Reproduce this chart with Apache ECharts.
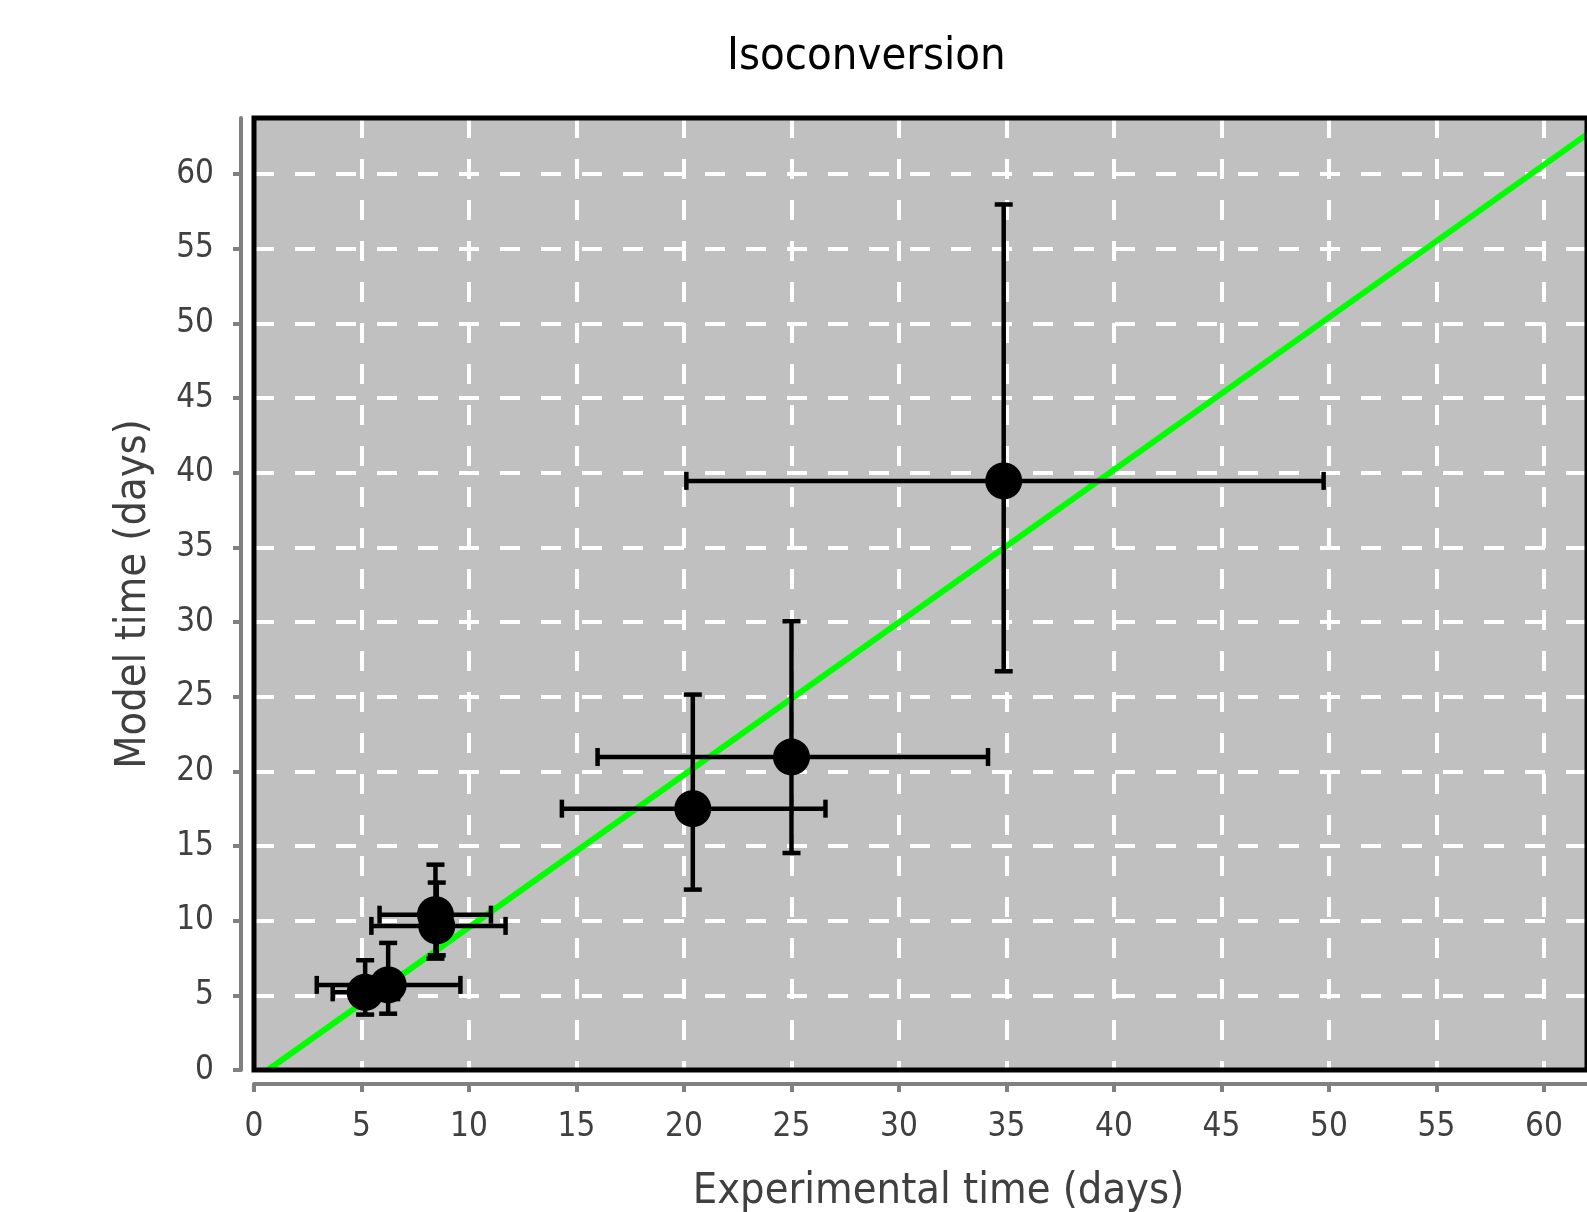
<!DOCTYPE html>
<html>
<head>
<meta charset="utf-8">
<script src="https://cdn.jsdelivr.net/npm/echarts@6/dist/echarts.min.js"></script>
<style>
html,body{margin:0;padding:0;background:#fff;}
#chart{width:1587px;height:1212px;}
</style>
</head>
<body>
<div id="chart"></div>
<script>
// Data
const xVals  = [5.17, 6.24, 8.44, 8.5, 20.41, 25.0, 34.87];
const yVals  = [5.2, 5.7, 10.4, 9.65, 17.5, 20.96, 39.45];
const xLow   = [3.66, 2.92, 5.84, 5.46, 14.32, 15.98, 20.11];
const xHigh  = [6.7, 9.6, 11.02, 11.7, 26.58, 34.14, 49.75];
const yLow   = [3.71, 3.77, 7.46, 7.68, 12.08, 14.53, 26.7];
const yHigh  = [7.35, 8.51, 13.75, 12.55, 25.14, 30.05, 57.96];
const fitLine = [[0.64, 0], [62, 62.65]];
const xTicks = [0, 5, 10, 15, 20, 25, 30, 35, 40, 45, 50, 55, 60];
const yTicks = [0, 5, 10, 15, 20, 25, 30, 35, 40, 45, 50, 55, 60];

const FONT = '"DejaVu Sans Condensed", "DejaVu Sans", sans-serif';
const points = xVals.map((x, i) => [x, yVals[i]]);
const errData = xVals.map((x, i) => [x, yVals[i], xLow[i], xHigh[i], yLow[i], yHigh[i]]);

const chart = echarts.init(document.getElementById('chart'));
const CAP = 9;
const errStyle = {stroke: '#000', lineWidth: 4.5};
const gridPos = {left: 254, top: 118, right: 0, bottom: 142, outerBoundsMode: 'none', containLabel: false};
const X_MAX = 62, Y_MAX = 63.75;

chart.setOption({
  animation: false,
  backgroundColor: '#fff',
  title: {
    text: 'Isoconversion',
    left: 722, top: 30,
    textStyle: {fontFamily: FONT, fontSize: 45, fontWeight: 'normal', color: '#000'}
  },
  grid: [
    Object.assign({show: true, backgroundColor: '#c0c0c0', borderWidth: 0, z: 0}, gridPos),
    Object.assign({show: true, backgroundColor: 'transparent', borderColor: '#000', borderWidth: 5, z: 6}, gridPos)
  ],
  xAxis: [{
    type: 'value', min: 0, max: X_MAX, interval: 5, gridIndex: 0,
    offset: 14,
    name: 'Experimental time (days)', nameLocation: 'middle', nameGap: 86,
    nameTextStyle: {fontFamily: FONT, fontSize: 43, color: '#404040', padding: [0, 0, 0, 36]},
    axisLine: {show: true, onZero: false, lineStyle: {color: '#808080', width: 4}},
    axisTick: {show: true, length: 8, customValues: xTicks, lineStyle: {color: '#808080', width: 4}},
    axisLabel: {customValues: xTicks, margin: 27, fontFamily: FONT, fontSize: 33, color: '#404040'},
    splitLine: {show: true, lineStyle: {color: '#fff', width: 4, type: [20, 21]}}
  }, {
    type: 'value', min: 0, max: X_MAX, gridIndex: 1, show: false
  }],
  yAxis: [{
    type: 'value', min: 0, max: Y_MAX, interval: 5, gridIndex: 0,
    offset: 13,
    name: 'Model time (days)', nameLocation: 'middle', nameGap: 86,
    nameTextStyle: {fontFamily: FONT, fontSize: 43, color: '#404040'},
    axisLine: {show: true, onZero: false, lineStyle: {color: '#808080', width: 4}},
    axisTick: {show: true, length: 8, customValues: yTicks, lineStyle: {color: '#808080', width: 4}},
    axisLabel: {customValues: yTicks, margin: 27, fontFamily: FONT, fontSize: 33, color: '#404040'},
    splitLine: {show: true, lineStyle: {color: '#fff', width: 4, type: [20, 21]}}
  }, {
    type: 'value', min: 0, max: Y_MAX, gridIndex: 1, show: false
  }],
  series: [
    {
      type: 'line', data: fitLine, symbol: 'none', z: 2,
      lineStyle: {color: '#00ff00', width: 6}
    },
    {
      type: 'custom', z: 3, data: errData,
      renderItem: function (params, api) {
        const c = api.coord([api.value(0), api.value(1)]);
        const xl = api.coord([api.value(2), api.value(1)]);
        const xh = api.coord([api.value(3), api.value(1)]);
        const yl = api.coord([api.value(0), api.value(4)]);
        const yh = api.coord([api.value(0), api.value(5)]);
        const L = (x1, y1, x2, y2) => ({type: 'line', shape: {x1, y1, x2, y2}, style: errStyle});
        return {type: 'group', children: [
          L(xl[0], c[1], xh[0], c[1]),
          L(xl[0], c[1] - CAP, xl[0], c[1] + CAP),
          L(xh[0], c[1] - CAP, xh[0], c[1] + CAP),
          L(c[0], yl[1], c[0], yh[1]),
          L(c[0] - CAP, yl[1], c[0] + CAP, yl[1]),
          L(c[0] - CAP, yh[1], c[0] + CAP, yh[1])
        ]};
      }
    },
    {
      type: 'scatter', data: points, symbol: 'circle', symbolSize: 37, z: 4,
      itemStyle: {color: '#000', opacity: 1}
    }
  ]
});
</script>
</body>
</html>
